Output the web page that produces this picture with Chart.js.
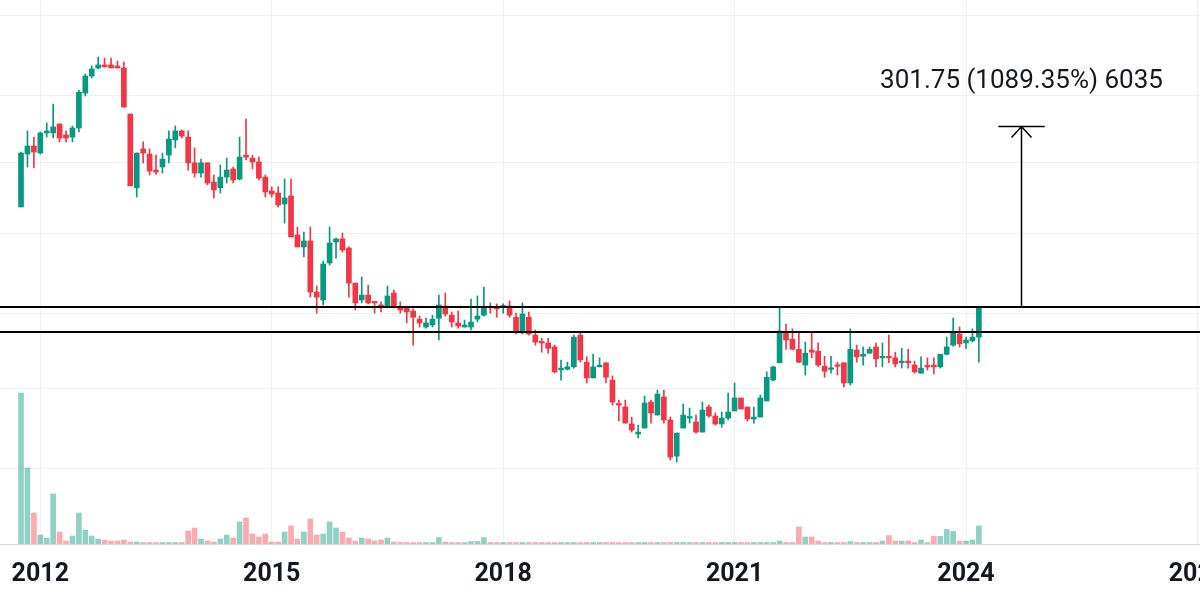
<!DOCTYPE html>
<html>
<head>
<meta charset="utf-8">
<title>Monthly chart</title>
<script src="https://cdn.jsdelivr.net/npm/chart.js@4.4.1/dist/chart.umd.min.js"></script>
<style>
  html, body { margin: 0; padding: 0; background: #ffffff; }
  #wrap { width: 1200px; height: 598px; }
</style>
</head>
<body>
<div id="wrap"><canvas id="chart" width="1200" height="598"></canvas></div>
<script>
// monthly candles, first one is Oct 2011 (months counted from Jan 2012)
const firstMonth = -3;

const open = [
  108.5, 224.3, 250.5, 227.4, 299.4, 299.4, 338.9, 291, 283.1, 320.5,
  517.3, 654, 730.3, 761, 761, 750.6, 730.3, 388.1, 141.1, 240.4,
  224.3, 180, 187.8, 221, 272, 307.8, 283.1, 198.7, 172.7, 198.7,
  152.8, 141.1, 163.5, 182.7, 159, 221, 212.1, 201.4, 163.5, 135.1,
  131.5, 113, 126.3, 73.9, 62.7, 68.1, 33.8, 30.3, 50.3, 67.1,
  70, 61.8, 38.2, 30.3, 32.4, 29.5, 28.3, 27.5, 33.3, 27.5,
  27.2, 26, 23.3, 20.9, 21.5, 23.6, 27.9, 24.6, 22.1, 20.9,
  20.9, 23.3, 24.6, 27.5, 27.2, 27.5, 27.9, 23.9, 19.3, 23.9,
  18.7, 17, 16.8, 15.9, 11.6, 11.7, 12.1, 18.7, 12.9, 10.4,
  12.1, 12.8, 10.1, 7.27, 6.98, 5.53, 4.82, 5.23, 7.47, 6.25,
  8.01, 5.84, 3.56, 5.23, 6, 5.68, 4.95, 6.98, 6.17, 5.53,
  6, 6.61, 7.9, 6.98, 5.92, 6.08, 7.58, 10.1, 12.8, 19.3,
  17.7, 15.4, 12.41, 15.25, 15, 12.2, 11.7, 12.41, 12.8, 9.7,
  15.25, 14, 14.6, 15.9, 13.7, 13.9, 13.7, 12.8, 13.1, 12.41,
  11.1, 12.2, 12.41, 12.1, 14.4, 16.3, 19, 16.8, 17.3, 18.2
];
const high = [
  230.6, 307.8, 283.1, 303.6, 343.6, 444.9, 338.9, 307.8, 329.5, 539,
  672.1, 750.6, 848.5, 836.9, 836.9, 802.9, 792, 388.1, 227.4, 264.7,
  240.4, 221, 227.4, 307.8, 329.5, 312, 307.8, 243.8, 209.2, 198.7,
  168, 193, 212.1, 187.8, 283.1, 362.5, 221, 215, 168, 143,
  143, 159, 159, 82.4, 77, 82.4, 36.7, 51.7, 82.4, 70.9,
  75.9, 62.7, 38.2, 41.5, 37.2, 29.5, 29.5, 36.7, 34.7, 29.5,
  27.5, 26.8, 24.3, 23.6, 24.6, 32.4, 33.3, 25.7, 26, 23,
  30.7, 32, 36.2, 29.1, 28.7, 28.7, 29.9, 25.3, 29.1, 25.7,
  20.1, 17.9, 17.9, 16.3, 13.3, 12.9, 18.7, 19.6, 13.9, 14.4,
  13.7, 12.8, 10.7, 7.68, 7.68, 6.08, 5.45, 8.12, 7.68, 8.81,
  8.81, 6.08, 4.88, 7.27, 6.88, 6.25, 7.47, 7.17, 6.43, 6.52,
  8.46, 9.7, 7.9, 6.98, 6.98, 8.23, 11.3, 12.2, 27.2, 21.8,
  20.4, 19.3, 17, 19.3, 16.8, 14, 14, 12.9, 12.8, 20.4,
  16.3, 15.9, 15.9, 16.8, 16.8, 18.7, 14.8, 15.6, 15.4, 13.1,
  13.9, 13.7, 13.7, 14.4, 18.2, 23.6, 20.9, 18.2, 20.4, 27.7
];
const low = [
  108.5, 187.8, 185.2, 224.3, 283.1, 279.3, 264.7, 264.7, 264.7, 303.6,
  497.1, 636.3, 720.4, 740.5, 730.3, 730.3, 427.1, 145, 124.5, 198.7,
  168, 170.4, 172.7, 198.7, 243.8, 279.3, 180, 163.5, 163.5, 147,
  122.8, 131.5, 150.7, 150.7, 157, 207, 182.7, 157, 124.5, 124.5,
  108.5, 87, 71.9, 62.7, 54.6, 31.5, 25.3, 28.3, 48.9, 53.8,
  58.5, 31.5, 26.4, 29.1, 28.7, 25.3, 25.7, 27.2, 27.2, 25.3,
  22.1, 16.3, 20.9, 20.6, 20.9, 17.5, 24.3, 20.9, 20.6, 20.9,
  20.1, 22.4, 24.3, 25.3, 23.9, 25.3, 23.9, 19, 19, 18.7,
  16.3, 14.8, 14.6, 11.1, 10.1, 11.6, 11.9, 12.9, 9.7, 10.4,
  12.1, 9.7, 7.17, 5.76, 5.6, 4.95, 4.56, 5.23, 5.6, 6.25,
  5.6, 3.37, 3.28, 5.23, 5.6, 4.88, 4.95, 6.08, 5.45, 5.3,
  5.84, 6.61, 6.79, 5.76, 5.6, 6.08, 7.58, 9.97, 12.8, 15.4,
  15.4, 12.8, 10.82, 13.7, 12.1, 10.5, 11.1, 10.82, 9.19, 9.44,
  12.9, 12.41, 14.6, 12.1, 12.1, 12.8, 12.1, 11.9, 11.9, 11.1,
  11.1, 11.59, 10.97, 11.9, 14.24, 16.1, 15.9, 15.6, 17, 12.9
];
const close = [
  227.4, 250.5, 230.6, 299.4, 307.8, 325, 279.3, 279.3, 320.5, 524.5,
  654, 720.4, 761, 740.5, 730.3, 730.3, 427.1, 145, 227.4, 227.4,
  177.6, 175.1, 209.2, 275.5, 307.8, 287, 198.7, 172.7, 198.7, 150.7,
  137, 163.5, 180, 157, 215, 215, 201.4, 161.2, 133.3, 129.7,
  111.5, 122.8, 71.9, 62.7, 68.1, 33.8, 31.5, 49.6, 66.2, 70,
  60.1, 38.2, 29.1, 32.4, 29.1, 29.1, 27.5, 32, 27.5, 26.4,
  25.7, 23.9, 22.1, 22.1, 23.3, 28.3, 25, 22.4, 21.2, 21.5,
  22.4, 24.3, 27.5, 27.2, 26.8, 27.9, 24.6, 19.3, 25, 19,
  17, 16.8, 15.6, 11.3, 11.9, 12.1, 18.2, 13.3, 10.4, 12.1,
  12.4, 10.5, 7.47, 7.17, 5.6, 5.09, 4.95, 7.37, 6.43, 8.34,
  5.84, 3.51, 4.88, 6.25, 6.08, 4.95, 6.7, 6.17, 5.53, 6,
  6.52, 7.9, 6.79, 5.92, 6.08, 7.9, 10.5, 12.1, 19.8, 17.5,
  15.4, 12.9, 14.6, 14.8, 12.41, 11.4, 11.9, 12.2, 9.7, 15.4,
  13.9, 14.4, 15.4, 13.5, 13.9, 13.7, 12.6, 13.1, 12.8, 11.3,
  11.9, 12.1, 12.1, 14.4, 15.9, 19.3, 16.6, 17.5, 18.2, 27.7
];
const volume = [
  1510, 760, 310, 90, 60, 500, 120, 30, 80, 310,
  140, 80, 50, 40, 30, 30, 40, 20, 20, 15,
  15, 15, 15, 15, 15, 15, 130, 160, 50, 30,
  20, 50, 90, 60, 220, 260, 100, 70, 100, 20,
  20, 120, 180, 50, 120, 250, 90, 100, 220, 160,
  120, 60, 30, 60, 50, 30, 40, 60, 20, 15,
  15, 15, 15, 15, 15, 65, 20, 15, 15, 15,
  25, 25, 65, 15, 15, 15, 15, 15, 15, 15,
  15, 15, 15, 15, 15, 15, 15, 15, 15, 15,
  15, 15, 15, 15, 15, 15, 15, 15, 15, 15,
  15, 15, 15, 15, 15, 15, 15, 15, 15, 15,
  15, 15, 15, 15, 15, 15, 15, 15, 30, 15,
  15, 170, 70, 70, 30, 15, 15, 15, 15, 25,
  15, 15, 15, 15, 30, 85, 30, 30, 30, 15,
  40, 15, 77, 77, 145, 126, 30, 30, 40, 180
];

// axis ticks
const yearTicks = [0, 36, 72, 108, 144, 180];
const yearLabels = ['2012', '2015', '2018', '2021', '2024', '2027'];
const priceGrid = [3, 9, 25, 75, 200, 500, 1500];

// drawn levels and the price range measurement
const levelLines = [27.70, 19.6];
const measureFrom = 27.70;
const measureTo = 329.45;
const measureMonth = 152.5;
const measureText = '301.75 (1089.35%) 6035';

// visible ranges
const xMin = -6.27, xMax = 180.4;
const priceMin = 1.066, priceMax = 1855;
const volMax = 5440;

const UP = '#089981';
const DOWN = '#f23645';
const UP_VOL = 'rgba(8, 153, 129, 0.45)';
const DOWN_VOL = 'rgba(242, 54, 69, 0.42)';
const GRID = '#eef0f3';

const monthX = open.map((_, i) => firstMonth + i);
const isUp = open.map((o, i) => close[i] >= o);

const measurePlugin = {
    id: 'measure',
    afterDatasetsDraw(chart) {
        const { ctx, chartArea, scales } = chart;
        const x = scales.x, y = scales.y;
        ctx.save();

        // horizontal levels
        ctx.strokeStyle = '#000000';
        ctx.lineWidth = 2;
        levelLines.forEach(v => {
            const py = Math.round(y.getPixelForValue(v));
            ctx.beginPath();
            ctx.moveTo(chartArea.left, py);
            ctx.lineTo(chartArea.right, py);
            ctx.stroke();
        });

        // arrow
        const ax = Math.round(x.getPixelForValue(measureMonth)) + 0.5;
        const y0 = y.getPixelForValue(measureFrom);
        const y1 = Math.round(y.getPixelForValue(measureTo)) + 0.5;
        const half = x.getPixelForValue(measureMonth + 3.6) - x.getPixelForValue(measureMonth);
        ctx.lineWidth = 1.5;
        ctx.beginPath();
        ctx.moveTo(ax, y0);
        ctx.lineTo(ax, y1);
        ctx.moveTo(ax - half, y1);
        ctx.lineTo(ax + half, y1);
        ctx.moveTo(ax - 10, y1 + 11);
        ctx.lineTo(ax, y1);
        ctx.lineTo(ax + 10, y1 + 11);
        ctx.stroke();

        ctx.fillStyle = '#131722';
        ctx.font = '26px Roboto';
        ctx.textAlign = 'center';
        ctx.textBaseline = 'alphabetic';
        ctx.fillText(measureText, ax, y1 - 39);
        ctx.restore();
    }
};

const ctx = document.getElementById('chart').getContext('2d');
new Chart(ctx, {
    type: 'bar',
    data: {
        datasets: [
            {
                label: 'body',
                data: monthX.map((m, i) => ({ x: m, y: [open[i], close[i]] })),
                backgroundColor: isUp.map(u => u ? UP : DOWN),
                barThickness: 5,
                minBarLength: 1.5,
                grouped: false,
                yAxisID: 'y',
                order: 0
            },
            {
                label: 'wick',
                data: monthX.map((m, i) => ({ x: m, y: [low[i], high[i]] })),
                backgroundColor: isUp.map(u => u ? UP : DOWN),
                barThickness: 1,
                grouped: false,
                yAxisID: 'y',
                order: 1
            },
            {
                label: 'volume',
                data: monthX.map((m, i) => ({ x: m, y: volume[i] })),
                backgroundColor: isUp.map(u => u ? UP_VOL : DOWN_VOL),
                barThickness: 5,
                grouped: false,
                yAxisID: 'vol',
                order: 2
            }
        ]
    },
    options: {
        responsive: false,
        animation: false,
        devicePixelRatio: 1,
        layout: { padding: 0 },
        plugins: {
            legend: { display: false },
            tooltip: { enabled: false }
        },
        scales: {
            x: {
                type: 'linear',
                min: xMin,
                max: xMax,
                offset: false,
                grid: { color: GRID, drawTicks: false, offset: false },
                border: { color: '#d9dce3' },
                ticks: {
                    padding: 16,
                    color: '#131722',
                    font: { family: 'Roboto', size: 25, weight: 'bold' },
                    maxRotation: 0,
                    autoSkip: false,
                    callback: (v, i) => yearLabels[i]
                },
                afterBuildTicks: axis => {
                    axis.ticks = yearTicks.map(v => ({ value: v }));
                },
                afterFit: axis => {
                    axis.height = 54;
                    axis.paddingLeft = 0;
                    axis.paddingRight = 0;
                }
            },
            y: {
                type: 'logarithmic',
                position: 'left',
                min: priceMin,
                max: priceMax,
                grid: { color: GRID, drawTicks: false },
                border: { display: false },
                ticks: { display: false },
                afterBuildTicks: axis => {
                    axis.ticks = priceGrid.map(v => ({ value: v }));
                },
                afterFit: axis => {
                    axis.width = 0;
                }
            },
            vol: {
                type: 'linear',
                display: false,
                min: 0,
                max: volMax
            }
        }
    },
    plugins: [measurePlugin]
});
</script>
</body>
</html>
